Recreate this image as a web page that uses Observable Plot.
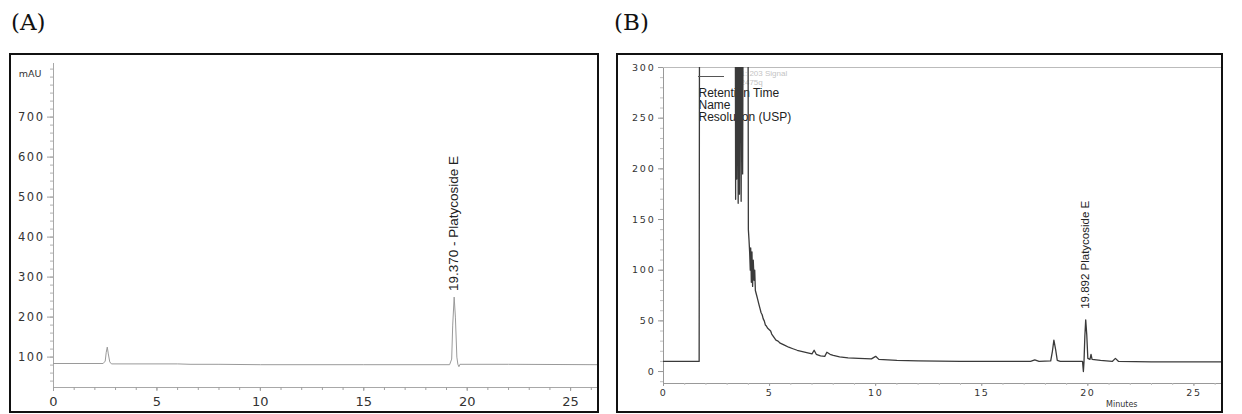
<!DOCTYPE html>
<html><head><meta charset="utf-8">
<script src="https://cdn.jsdelivr.net/npm/d3@7"></script>
<script src="https://cdn.jsdelivr.net/npm/@observablehq/plot@0.6"></script>
<style>
html,body{margin:0;padding:0;background:#fff;}
#root{position:relative;width:1242px;height:414px;overflow:hidden;background:#fff;}
.title{position:absolute;font-family:"DejaVu Serif","Liberation Serif",serif;font-size:23px;line-height:1;color:#111;}
.panel{position:absolute;box-sizing:border-box;border:2px solid #111;background:#fff;}
.panel svg{display:block;}
g[aria-label="y-axis tick label"]{letter-spacing:1.5px;}
#panelB g[aria-label="y-axis tick label"]{letter-spacing:1.8px;}
#panelB g[aria-label="x-axis tick label"]{letter-spacing:1.5px;}
.swatch{position:absolute;height:1px;background:#555;}
</style>
</head><body>
<div id="root">
  <div class="title" id="titleA">(A)</div>
  <div class="title" id="titleB">(B)</div>
  <div class="panel" id="panelA"></div>
  <div class="panel" id="panelB"></div>
</div>
<script>
// ---------- Panel A data ----------
const timeA   = [0, 2.4, 2.5, 2.55, 2.6, 2.65, 2.72, 2.8, 6, 6.6, 8, 10, 15, 19.15, 19.25, 19.3, 19.37, 19.43, 19.5, 19.55, 19.6, 19.65, 22, 26.3];
const signalA = [84, 84, 90, 112, 125, 108, 88, 83, 83, 82, 82, 81, 81, 81, 95, 180, 250, 200, 100, 82, 76, 82, 82, 81];
const peakTimeA   = [19.37];
const peakSignalA = [250];
const peakLabelA  = ["19.370 - Platycoside E"];
const xTicksA = [0, 5, 10, 15, 20, 25];
const xMinorA = d3.range(0, 27, 1);
const yTicksA = [100, 200, 300, 400, 500, 600, 700];
const yMinorA = d3.range(40, 821, 20);
const yUnitA  = "mAU";
const xDomainA = [0, 26.3];
const yDomainA = [24, 834];

// ---------- Panel B data ----------
const timeB = [0, 1.68, 1.70, 3.38, 3.40, 3.42, 3.45, 3.48, 3.52, 3.55, 3.58, 3.62, 3.66, 3.70, 3.73, 3.76, 3.98,
  4.0, 4.03, 4.06, 4.09, 4.11, 4.14, 4.17, 4.2, 4.23, 4.27, 4.3, 4.33, 4.38, 4.43, 4.5, 4.55, 4.6, 4.65, 4.7, 4.75,
  4.8, 4.85, 4.9, 5.0, 5.05, 5.1, 5.2, 5.3, 5.4, 5.5, 5.7, 5.9, 6.1, 6.3, 6.5, 6.8, 7.0, 7.1, 7.2, 7.4, 7.6, 7.7,
  7.85, 8.0, 8.3, 8.7, 9.2, 9.8, 10.0, 10.15, 11, 12, 14, 17.3, 17.5, 17.7, 18.25, 18.33, 18.4, 18.48, 18.56, 18.7,
  19.75, 19.79, 19.82, 19.86, 19.9, 19.95, 20.0, 20.1, 20.15, 20.2, 20.6, 21.15, 21.3, 21.45, 23, 26.3];
const signalB = [10, 10, 420, 420, 170, 420, 190, 420, 166, 420, 175, 420, 168, 420, 195, 420, 420,
  140, 130, 118, 100, 122, 88, 118, 84, 110, 90, 100, 80, 76, 72, 66, 62, 58, 56, 52, 50,
  46, 45, 43, 41, 40, 37, 34, 31, 30, 28, 26, 24, 22.5, 21, 20, 18.5, 17.5, 21, 17, 15.5, 15, 19,
  17, 16, 14.5, 13.5, 13, 12.5, 15, 12, 11, 10.5, 10, 10, 11.5, 10, 10.5, 20, 31, 22, 11, 10,
  10, 0, 10, 35, 51, 36, 13, 12, 17, 12, 11, 10, 13, 10, 9.5, 9.5];
const peakTimeB   = [19.892];
const peakSignalB = [51];
const peakLabelB  = ["19.892 Platycoside E"];
const xTicksB = [0, 5, 10, 15, 20, 25];
const xMinorB = d3.range(0, 27, 1);
const yTicksB = [0, 50, 100, 150, 200, 250, 300];
const yMinorB = d3.range(-10, 301, 10);
const xLabelB = "Minutes";
const legendLinesB = ["Retention Time", "Name", "Resolution (USP)"];
const legendSignalB = ["1: 203 Signal", "2475q"];
const xDomainB = [0, 26.3];
const yDomainB = [-11.8, 300];

// ---------- layout ----------
const css = (el, o) => Object.assign(el.style, o);
css(document.getElementById("titleA"), {left: "11px", top: "11px"});
css(document.getElementById("titleB"), {left: "614px", top: "11px"});
css(document.getElementById("panelA"), {left: "9px", top: "53px", width: "590px", height: "360px"});
css(document.getElementById("panelB"), {left: "616px", top: "53px", width: "607px", height: "360px"});

const dataA = timeA.map((t, i) => ({t, v: signalA[i]}));
const peaksA = peakTimeA.map((t, i) => ({t, v: peakSignalA[i], label: peakLabelA[i]}));
const dataB = timeB.map((t, i) => ({t, v: signalB[i]}));
const peaksB = peakTimeB.map((t, i) => ({t, v: peakSignalB[i], label: peakLabelB[i]}));

const tickFont = "DejaVu Sans, Verdana, sans-serif";
const labelFont = "Liberation Sans Narrow, Liberation Sans, Arial, sans-serif";
const blank = () => "";

const plotA = Plot.plot({
  width: 586, height: 356,
  marginLeft: 42, marginRight: 0, marginTop: 8, marginBottom: 24,
  x: {domain: xDomainA, label: null},
  y: {domain: yDomainA, label: null},
  style: {fontFamily: tickFont, background: "transparent", color: "#333", overflow: "visible"},
  marks: [
    Plot.ruleX([xDomainA[0]], {stroke: "#a8a8a8"}),
    Plot.ruleY([yDomainA[0]], {stroke: "#a8a8a8"}),
    Plot.axisY(yMinorA, {tickSize: 3, tickFormat: blank, stroke: "#b0b0b0", label: null}),
    Plot.axisY(yTicksA, {tickSize: 6, tickPadding: 3, fontSize: 11.5, stroke: "#a0a0a0", fill: "#333", label: null}),
    Plot.axisX(xMinorA, {tickSize: 3, tickFormat: blank, stroke: "#a0a0a0", label: null}),
    Plot.axisX(xTicksA, {tickSize: 4, tickPadding: 5, fontSize: 13, stroke: "#a0a0a0", fill: "#333", label: null}),
    Plot.text([yUnitA], {frameAnchor: "top-left", dx: -12, dy: 6.5, textAnchor: "end", fontSize: 9.5, fill: "#333"}),
    Plot.line(dataA, {x: "t", y: "v", stroke: "#9a9a9a", strokeWidth: 1, clip: true}),
    Plot.text(peaksA, {x: "t", y: "v", text: "label", rotate: -90, textAnchor: "start", dy: -6,
      fontSize: 13.5, fontFamily: labelFont, fill: "#222"})
  ]
});
document.getElementById("panelA").appendChild(plotA);

const plotB = Plot.plot({
  width: 603, height: 356,
  marginLeft: 45, marginRight: 0, marginTop: 12, marginBottom: 28,
  x: {domain: xDomainB, label: null},
  y: {domain: yDomainB, label: null},
  style: {fontFamily: tickFont, background: "transparent", color: "#333", overflow: "visible"},
  marks: [
    Plot.ruleX([xDomainB[0]], {stroke: "#999"}),
    Plot.ruleY([yDomainB[0]], {stroke: "#999"}),
    Plot.ruleY([yDomainB[1]], {stroke: "#bbb"}),
    Plot.axisY(yMinorB, {tickSize: 3, tickFormat: blank, stroke: "#c0c0c0", label: null}),
    Plot.axisY(yTicksB, {tickSize: 5, tickPadding: 3, fontSize: 9.5, stroke: "#999", fill: "#333", label: null}),
    Plot.axisX(xMinorB, {tickSize: 2, tickFormat: blank, stroke: "#c0c0c0", label: null}),
    Plot.axisX(xTicksB, {tickSize: 3, tickPadding: 3, fontSize: 9.5, stroke: "#999", fill: "#333", label: null}),
    Plot.text([xLabelB], {frameAnchor: "bottom-right", dx: -84, dy: 23, fontSize: 8, fill: "#333"}),
    Plot.text([legendSignalB.join("\n")], {frameAnchor: "top-left", dx: 77, dy: 2, textAnchor: "start", lineAnchor: "top",
      fontSize: 8, lineHeight: 1.15, fill: "#c4c4c4", fontFamily: labelFont}),
    Plot.text([legendLinesB.join("\n")], {frameAnchor: "top-left", dx: 35, dy: 21, textAnchor: "start", lineAnchor: "top",
      fontSize: 12, lineHeight: 1, fill: "#222", fontFamily: "Liberation Sans, Arial, sans-serif"}),
    Plot.line(dataB, {x: "t", y: "v", stroke: "#3a3a3a", strokeWidth: 1.3, clip: true}),
    Plot.text(peaksB, {x: "t", y: "v", text: "label", rotate: -90, textAnchor: "start", dy: -11,
      fontSize: 11.5, fontFamily: labelFont, fill: "#222"})
  ]
});
document.getElementById("panelB").appendChild(plotB);

const sw = document.createElement("div");
sw.className = "swatch";
css(sw, {left: "80px", top: "21px", width: "26px"});
document.getElementById("panelB").appendChild(sw);
</script>
</body></html>
